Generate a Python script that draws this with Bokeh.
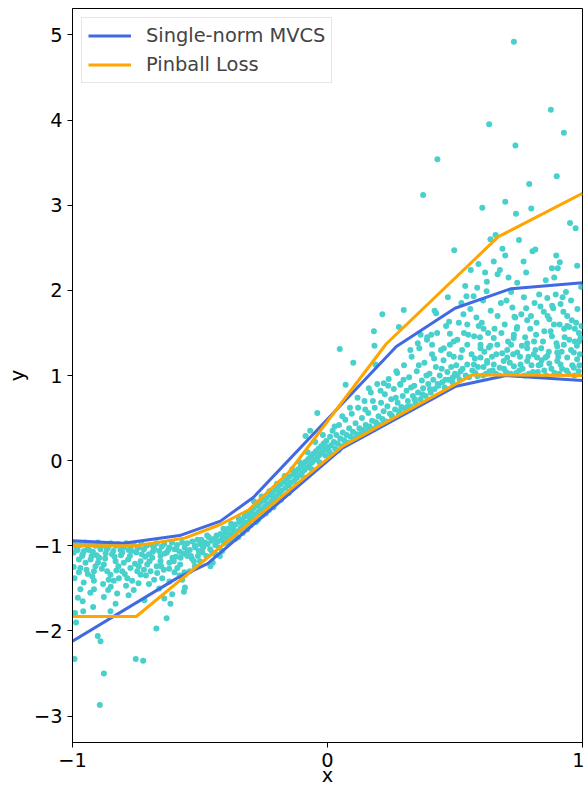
from bokeh.plotting import figure
from bokeh.models import Range1d, FixedTicker, Legend, LegendItem
from bokeh.embed import file_html
from bokeh.resources import INLINE

# ---------------- data ----------------
# scatter points, left region x in [-1, -0.5]
left_x = [-0.99, -0.98, -0.97, -0.96, -0.95, -0.94, -0.93, -0.92, -0.91, -0.90,
          -0.89, -0.88, -0.87, -0.86, -0.85, -0.84, -0.83, -0.82, -0.81, -0.80,
          -0.79, -0.78, -0.77, -0.76, -0.75, -0.74, -0.73, -0.72, -0.71, -0.70,
          -0.69, -0.68, -0.67, -0.66, -0.65, -0.64, -0.63, -0.62, -0.61, -0.60,
          -0.59, -0.58, -0.57, -0.56, -0.55, -0.54, -0.53, -0.52, -0.51, -0.50,
          -0.985, -0.955, -0.925, -0.895, -0.865, -0.835, -0.805, -0.775, -0.745, -0.715,
          -0.685, -0.655, -0.625, -0.595, -0.565, -0.535, -0.505,
          -0.975, -0.969, -0.949, -0.929, -0.916, -0.91, -0.897, -0.877, -0.864, -0.851,
          -0.838, -0.831, -0.818, -0.805, -0.799, -0.785, -0.773, -0.766, -0.746, -0.733,
          -0.733, -0.707, -0.694, -0.687, -0.655, -0.648, -0.642, -0.603, -0.589, -0.576,
          -0.55, -0.524, -0.992, -0.956, -0.916,
          -0.979, -0.969, -0.916, -0.919, -0.958, -0.99, -0.986, -0.877, -0.851, -0.831,
          -0.825, -0.718, -0.609, -0.616, -0.563, -0.559, -0.631, -0.671, -0.901, -0.89,
          -0.893, -0.877, -0.992, -0.752, -0.723,
          -0.94, -0.88, -0.86, -0.79, -0.76, -0.70, -0.68, -0.66, -0.62, -0.58,
          -0.54, -0.52, -0.995, -0.90, -0.82, -0.74, -0.72, -0.67, -0.62, -0.60,
          -0.995, -0.975, -0.962, -0.945, -0.935, -0.922, -0.905, -0.885, -0.872, -0.858,
          -0.845, -0.828, -0.812, -0.795, -0.782, -0.768, -0.755, -0.741, -0.728, -0.712,
          -0.698, -0.682, -0.668, -0.652, -0.638, -0.621, -0.608, -0.592, -0.578, -0.561,
          -0.548, -0.532, -0.518, -0.508, -0.96, -0.93, -0.85, -0.78, -0.64, -0.57]
left_y = [-0.97, -1.05, -0.99, -1.10, -0.96, -1.03, -0.98, -1.07, -1.00, -0.96,
          -1.04, -0.99, -1.09, -1.01, -0.97, -1.06, -1.00, -0.98, -1.11, -1.02,
          -0.97, -1.05, -1.00, -0.98, -1.08, -1.02, -0.97, -1.04, -1.00, -1.10,
          -0.99, -1.03, -0.97, -1.06, -1.01, -0.98, -1.08, -1.02, -0.96, -1.04,
          -0.99, -1.07, -0.96, -1.02, -0.97, -1.05, -0.95, -1.00, -0.93, -0.98,
          -1.02, -1.06, -1.12, -1.14, -1.04, -1.13, -1.08, -1.12, -1.03, -1.13,
          -1.07, -1.12, -1.05, -1.13, -1.09, -1.12, -1.06,
          -1.16, -1.26, -1.20, -1.16, -1.30, -1.24, -1.14, -1.22, -1.30, -1.34,
          -1.41, -1.18, -1.38, -1.30, -1.20, -1.38, -1.26, -1.41, -1.30, -1.18,
          -1.34, -1.22, -1.30, -1.14, -1.18, -1.38, -1.28, -1.18, -1.26, -1.14,
          -1.12, -1.18, -1.38, -1.43, -1.41,
          -1.61, -1.51, -1.51, -1.72, -1.77, -1.79, -1.90, -1.60, -1.77, -1.68,
          -1.56, -1.64, -1.57, -1.68, -1.54, -1.49, -1.85, -1.97, -2.06, -2.12,
          -2.87, -2.50, -2.33, -2.33, -2.35,
          -1.33, -1.45, -1.52, -1.47, -1.52, -1.45, -1.40, -1.50, -1.42, -1.35,
          -1.30, -1.24, -1.25, -1.20, -1.24, -1.24, -1.28, -1.24, -1.20, -1.31,
          -1.08, -1.31, -1.12, -1.28, -1.05, -1.36, -1.11, -1.27, -1.15, -1.40,
          -1.10, -1.29, -1.05, -1.33, -1.16, -1.06, -1.21, -1.44, -1.10, -1.35,
          -1.18, -1.05, -1.32, -1.24, -1.09, -1.27, -1.14, -1.04, -1.22, -1.31,
          -1.06, -1.15, -1.02, -1.12, -1.65, -1.55, -1.48, -1.58, -1.62, -1.40]

# scatter points, middle region x in [-0.5, 0]
mid_x = [-0.495, -0.49, -0.485, -0.48, -0.475, -0.47, -0.465, -0.46, -0.455, -0.45,
         -0.445, -0.44, -0.435, -0.43, -0.425, -0.42, -0.415, -0.41, -0.405, -0.40,
         -0.395, -0.39, -0.385, -0.38, -0.375, -0.37, -0.365, -0.36, -0.355, -0.35,
         -0.345, -0.34, -0.335, -0.33, -0.325, -0.32, -0.315, -0.31, -0.305, -0.30,
         -0.295, -0.29, -0.285, -0.28, -0.275, -0.27, -0.265, -0.26, -0.255, -0.25,
         -0.245, -0.24, -0.235, -0.23, -0.225, -0.22, -0.215, -0.21, -0.205, -0.20,
         -0.195, -0.19, -0.185, -0.18, -0.175, -0.17, -0.165, -0.16, -0.155, -0.15,
         -0.145, -0.14, -0.135, -0.13, -0.125, -0.12, -0.115, -0.11, -0.105, -0.10,
         -0.095, -0.09, -0.085, -0.08, -0.075, -0.07, -0.065, -0.06, -0.055, -0.05,
         -0.045, -0.04, -0.035, -0.03, -0.025, -0.02, -0.015, -0.01, -0.005, 0.0,
         -0.04, -0.086, -0.068, -0.459, -0.413, -0.50, -0.44,
         -0.488, -0.472, -0.452, -0.438, -0.422, -0.408, -0.392, -0.378, -0.362, -0.348,
         -0.332, -0.318, -0.302, -0.288, -0.272, -0.258, -0.242, -0.228, -0.212, -0.198,
         -0.182, -0.168, -0.152, -0.138, -0.122, -0.108, -0.092, -0.078, -0.062, -0.048,
         -0.032, -0.018, -0.008]
mid_y = [-0.93, -1.08, -1.00, -0.96, -1.12, -0.98, -0.90, -1.04, -0.94, -1.20,
         -0.92, -0.99, -0.88, -0.95, -1.02, -0.86, -0.93, -0.89, -0.97, -0.84,
         -0.91, -0.80, -0.87, -0.94, -0.82, -0.78, -0.86, -0.75, -0.83, -0.90,
         -0.72, -0.79, -0.70, -0.76, -0.66, -0.73, -0.81, -0.64, -0.70, -0.60,
         -0.67, -0.56, -0.63, -0.72, -0.53, -0.60, -0.50, -0.57, -0.64, -0.47,
         -0.54, -0.44, -0.51, -0.58, -0.41, -0.48, -0.38, -0.45, -0.34, -0.42,
         -0.31, -0.38, -0.28, -0.35, -0.42, -0.25, -0.32, -0.22, -0.29, -0.19,
         -0.26, -0.33, -0.16, -0.23, -0.13, -0.20, -0.10, -0.17, -0.07, -0.14,
         -0.04, -0.11, -0.01, -0.08, 0.02, -0.05, 0.05, -0.02, 0.08, 0.01,
         0.11, 0.04, 0.14, 0.07, 0.17, 0.10, 0.20, 0.13, 0.23, 0.16,
         0.56, 0.29, 0.35, -1.24, -1.06, -1.18, -1.10,
         -1.02, -0.88, -1.08, -0.93, -1.12, -0.80, -0.96, -0.74, -0.92, -0.68,
         -0.85, -0.62, -0.76, -0.48, -0.69, -0.42, -0.62, -0.36, -0.55, -0.27,
         -0.46, -0.18, -0.38, -0.10, -0.28, -0.02, -0.20, 0.10, -0.10, 0.22,
         -0.02, 0.30, 0.06]

# scatter points, x in [0, 0.5]
cen_x = [0.005, 0.01, 0.015, 0.02, 0.025, 0.03, 0.035, 0.04, 0.045, 0.05,
         0.055, 0.06, 0.065, 0.07, 0.075, 0.08, 0.085, 0.09, 0.095, 0.10,
         0.105, 0.11, 0.115, 0.12, 0.125, 0.13, 0.135, 0.14, 0.145, 0.15,
         0.155, 0.16, 0.165, 0.17, 0.175, 0.18, 0.185, 0.19, 0.195, 0.20,
         0.205, 0.21, 0.215, 0.22, 0.225, 0.23, 0.235, 0.24, 0.245, 0.25,
         0.255, 0.26, 0.265, 0.27, 0.275, 0.28, 0.285, 0.29, 0.295, 0.30,
         0.305, 0.31, 0.315, 0.32, 0.325, 0.33, 0.335, 0.34, 0.345, 0.35,
         0.355, 0.36, 0.365, 0.37, 0.375, 0.38, 0.385, 0.39, 0.395, 0.40,
         0.405, 0.41, 0.415, 0.42, 0.425, 0.43, 0.435, 0.44, 0.445, 0.45,
         0.455, 0.46, 0.465, 0.47, 0.475, 0.48, 0.485, 0.49, 0.495, 0.50,
         0.048, 0.101, 0.071, 0.182, 0.184, 0.215, 0.299, 0.28, 0.188, 0.375,
         0.431, 0.497, 0.472, 0.477, 0.42, 0.426, 0.391, 0.407, 0.354, 0.41,
         0.456, 0.48, 0.365, 0.325, 0.221, 0.162, 0.286, 0.273,
         0.012, 0.028, 0.042, 0.058, 0.072, 0.088, 0.102, 0.118, 0.132, 0.148,
         0.162, 0.178, 0.192, 0.208, 0.222, 0.238, 0.252, 0.268, 0.282, 0.298,
         0.312, 0.328, 0.342, 0.358, 0.372, 0.388, 0.402, 0.418, 0.432, 0.448,
         0.462, 0.478, 0.492]
cen_y = [0.12, 0.28, 0.18, 0.35, 0.22, 0.14, 0.30, 0.20, 0.42, 0.26,
         0.17, 0.33, 0.24, 0.48, 0.30, 0.21, 0.38, 0.28, 0.55, 0.34,
         0.25, 0.44, 0.31, 0.62, 0.38, 0.29, 0.50, 0.36, 0.70, 0.42,
         0.33, 0.56, 0.40, 0.80, 0.47, 0.37, 0.62, 0.45, 0.90, 0.52,
         0.42, 0.68, 0.49, 0.58, 0.78, 0.46, 0.64, 0.96, 0.55, 0.72,
         0.50, 0.84, 0.60, 1.05, 0.68, 0.54, 0.90, 0.63, 0.76, 1.12,
         0.60, 0.82, 0.70, 0.98, 0.64, 1.22, 0.76, 0.88, 0.68, 1.05,
         0.80, 1.32, 0.72, 0.94, 0.85, 1.15, 0.76, 1.42, 0.90, 1.02,
         0.80, 1.25, 0.95, 0.84, 1.10, 1.50, 0.88, 1.00, 1.30, 0.92,
         1.18, 0.86, 1.58, 1.04, 0.95, 1.36, 1.10, 0.92, 1.22, 1.02,
         1.31, 1.15, 0.89, 1.52, 1.35, 1.72, 1.77, 1.57, 1.13, 3.12,
         3.54, 2.47, 1.92, 1.63, 1.76, 1.73, 1.45, 1.48, 1.38, 1.36,
         1.32, 1.49, 1.48, 1.30, 0.91, 0.85, 0.89, 1.03,
         0.08, 0.40, 0.12, 0.52, 0.20, 0.62, 0.26, 0.74, 0.32, 0.60,
         0.38, 0.70, 0.40, 0.82, 0.46, 0.88, 0.53, 0.74, 0.58, 0.95,
         0.63, 0.86, 0.72, 1.12, 0.78, 1.00, 0.84, 1.20, 0.90, 1.08,
         0.95, 1.25, 0.98]

# scatter points, right region x in [0.5, 1]
right_x = [0.533, 0.548, 0.584, 0.593, 0.624, 0.667, 0.736, 0.744, 0.779, 0.783,
           0.835, 0.863, 0.881, 0.885, 0.914, 0.94, 0.948, 0.97, 0.995, 0.862,
           0.509, 0.548, 0.6, 0.633, 0.666, 0.705, 0.744, 0.783, 0.809, 0.855,
           0.901, 0.927, 0.966, 0.992, 0.733, 0.73, 0.691, 0.757, 0.835, 0.914,
           0.979, 0.626, 0.574, 0.522,
           0.522, 0.548, 0.6, 0.626, 0.652, 0.705, 0.731, 0.783, 0.822, 0.862,
           0.901, 0.94, 0.966, 0.986, 0.986, 0.94, 0.901, 0.783, 0.731, 0.652,
           0.6, 0.495,
           0.659, 0.639, 0.686, 0.697, 0.751, 0.804, 0.815, 0.897, 0.911, 0.652,
           0.769, 0.88, 0.903, 0.979, 0.592, 0.562, 0.676, 0.667, 0.71, 0.779,
           0.889, 0.744, 0.856, 0.618, 0.625, 0.587, 0.573, 0.545,
           0.731, 0.876, 0.634, 0.927, 0.737, 0.899, 0.791, 0.607, 0.697, 0.739,
           0.799, 0.951, 0.973,
           0.51, 0.53, 0.555, 0.565, 0.58, 0.59, 0.61, 0.615, 0.635, 0.645,
           0.66, 0.675, 0.685, 0.70, 0.715, 0.72, 0.74, 0.755, 0.765, 0.775,
           0.79, 0.80, 0.815, 0.825, 0.84, 0.845, 0.85, 0.87, 0.875, 0.89,
           0.905, 0.92, 0.93, 0.945, 0.955, 0.96, 0.975, 0.985, 0.99, 0.535,
           0.56, 0.575, 0.605, 0.64, 0.655, 0.68, 0.695, 0.725, 0.76, 0.77,
           0.795, 0.82, 0.83, 0.85, 0.87, 0.895, 0.91, 0.925, 0.935, 0.955,
           0.97, 0.98, 0.515, 0.525, 0.54, 0.61, 0.63, 0.72, 0.81, 0.88,
           0.505, 0.518, 0.528, 0.542, 0.552, 0.568, 0.578, 0.588, 0.598, 0.612,
           0.622, 0.638, 0.648, 0.662, 0.672, 0.682, 0.692, 0.708, 0.718, 0.728,
           0.742, 0.752, 0.762, 0.772, 0.788, 0.798, 0.806, 0.818, 0.828, 0.838,
           0.848, 0.858, 0.868, 0.878, 0.888, 0.898, 0.908, 0.918, 0.928, 0.938,
           0.948, 0.958, 0.968, 0.978, 0.988, 0.996, 0.612, 0.702, 0.812, 0.922]
right_y = [1.72, 1.60, 1.68, 1.58, 1.99, 1.70, 1.68, 1.57, 1.79, 1.65,
           1.81, 1.70, 1.82, 1.79, 1.84, 1.70, 1.57, 1.55, 2.04, 1.91,
           1.42, 1.36, 1.36, 1.33, 1.36, 1.30, 1.27, 1.38, 1.25, 1.21,
           1.27, 1.36, 1.27, 1.44, 1.69, 1.44, 1.17, 1.13, 1.13, 1.13,
           1.19, 1.15, 1.13, 1.05,
           1.21, 1.13, 1.21, 1.17, 1.13, 1.21, 1.11, 1.17, 1.21, 1.23,
           1.17, 1.21, 1.09, 1.40, 1.50, 1.58, 1.34, 1.32, 1.48, 1.44,
           1.32, 1.40,
           2.65, 2.60, 2.49, 2.41, 2.59, 2.46, 2.48, 2.41, 2.33, 2.34,
           2.34, 2.26, 2.26, 2.29, 2.31, 2.24, 2.24, 2.19, 2.15, 2.21,
           2.15, 2.09, 2.12, 2.21, 2.10, 2.03, 1.93, 1.93,
           4.92, 4.12, 3.95, 3.85, 3.70, 3.34, 3.25, 2.97, 3.04, 2.90,
           2.96, 2.79, 2.73,
           1.00, 1.08, 0.98, 1.25, 1.03, 1.10, 1.00, 1.28, 1.05, 1.22,
           1.02, 1.09, 1.26, 1.04, 1.15, 1.36, 1.03, 1.22, 1.08, 1.45,
           1.02, 1.12, 1.30, 1.04, 1.18, 1.40, 1.06, 1.14, 1.52, 1.03,
           1.22, 1.08, 1.45, 1.02, 1.30, 1.12, 1.62, 1.05, 1.25, 1.50,
           1.78, 1.46, 1.62, 1.76, 1.55, 1.85, 1.60, 1.80, 1.72, 1.92,
           1.55, 1.62, 1.95, 1.52, 1.66, 1.95, 1.60, 1.75, 1.98, 1.88,
           1.40, 1.78, 1.62, 1.85, 2.05, 1.88, 1.50, 1.98, 1.40, 1.46,
           1.12, 0.95, 1.30, 1.00, 1.48, 1.06, 1.20, 0.99, 1.45, 1.10,
           1.02, 1.35, 1.06, 1.25, 1.00, 1.50, 1.08, 1.40, 1.02, 1.25,
           1.55, 1.06, 1.35, 1.00, 1.22, 1.70, 1.04, 1.48, 1.12, 1.32,
           1.75, 1.00, 1.28, 1.08, 1.60, 1.38, 1.02, 1.28, 1.55, 1.06,
           1.42, 1.65, 1.00, 1.35, 1.12, 1.58, 1.55, 1.88, 1.85, 1.92]

# interval bounds
mvcs_upper_x = [-1.0, -0.8, -0.58, -0.42, -0.29, 0.27, 0.5, 0.72, 1.0]
mvcs_upper_y = [-0.94, -0.97, -0.88, -0.71, -0.43, 1.34, 1.79, 2.02, 2.09]
mvcs_lower_x = [-1.0, -0.59, -0.47, 0.06, 0.5, 0.7, 1.0]
mvcs_lower_y = [-2.12, -1.38, -1.21, 0.15, 0.87, 1.0, 0.94]
pinball_upper_x = [-1.0, -0.75, -0.56, -0.42, -0.31, -0.15, 0.23, 0.67, 1.0]
pinball_upper_y = [-1.0, -1.0, -0.91, -0.75, -0.58, -0.13, 1.37, 2.63, 3.14]
pinball_lower_x = [-1.0, -0.75, 0.06, 0.57, 1.0]
pinball_lower_y = [-1.83, -1.83, 0.17, 1.01, 1.0]

x_ticks = [-1, 0, 1]
x_tick_labels = ["\u22121", "0", "1"]
y_ticks = [-3, -2, -1, 0, 1, 2, 3, 4, 5]
y_tick_labels = ["\u22123", "\u22122", "\u22121", "0", "1", "2", "3", "4", "5"]

series_names = ["Single-norm MVCS", "Pinball Loss"]

# ---------------- figure ----------------
FONT = "DejaVu Sans"
FS = "19.4px"
p = figure(width=584, height=789, output_backend="svg", toolbar_location=None,
           x_range=Range1d(-1, 1), y_range=Range1d(-3.31, 5.31),
           min_border_left=72, min_border_right=2, min_border_top=8,
           min_border_bottom=47)
p.background_fill_color = "white"
p.border_fill_color = "white"
p.outline_line_color = "black"
p.outline_line_width = 1
p.grid.visible = False

pts_x = left_x + mid_x + cen_x + right_x
pts_y = left_y + mid_y + cen_y + right_y
p.scatter(pts_x, pts_y, size=6, color="#48D1CC", line_color=None)

r1 = p.line(mvcs_upper_x, mvcs_upper_y, line_color="#4169E1", line_width=3)
p.line(mvcs_lower_x, mvcs_lower_y, line_color="#4169E1", line_width=3)
r2 = p.line(pinball_upper_x, pinball_upper_y, line_color="#FFA500", line_width=3)
p.line(pinball_lower_x, pinball_lower_y, line_color="#FFA500", line_width=3)

for ax, ticks, labels, name, s1, s2 in [(p.xaxis[0], x_ticks, x_tick_labels, "x", 5, -6),
                                        (p.yaxis[0], y_ticks, y_tick_labels, "y", 5, 2)]:
    ax.ticker = FixedTicker(ticks=ticks)
    ax.major_label_overrides = {t: l for t, l in zip(ticks, labels)}
    ax.minor_tick_line_color = None
    ax.major_tick_out = 5
    ax.major_tick_in = 0
    ax.major_tick_line_color = "black"
    ax.axis_line_color = "black"
    ax.major_label_text_font = FONT
    ax.major_label_text_font_size = FS
    ax.major_label_text_color = "black"
    ax.major_label_standoff = s1
    ax.axis_label = name
    ax.axis_label_text_font = FONT
    ax.axis_label_text_font_size = FS
    ax.axis_label_text_font_style = "normal"
    ax.axis_label_text_color = "black"
    ax.axis_label_standoff = s2

legend = Legend(items=[LegendItem(label=series_names[0], renderers=[r1]),
                       LegendItem(label=series_names[1], renderers=[r2])],
                location="top_left", margin=9, padding=6, spacing=6,
                glyph_width=43, glyph_height=23, label_height=23,
                label_standoff=15,
                label_text_font=FONT, label_text_font_size=FS,
                border_line_color="#cccccc", border_line_width=1,
                background_fill_color="white", background_fill_alpha=0.8)
p.add_layout(legend)

open("out.html", "w").write(file_html(p, INLINE))
